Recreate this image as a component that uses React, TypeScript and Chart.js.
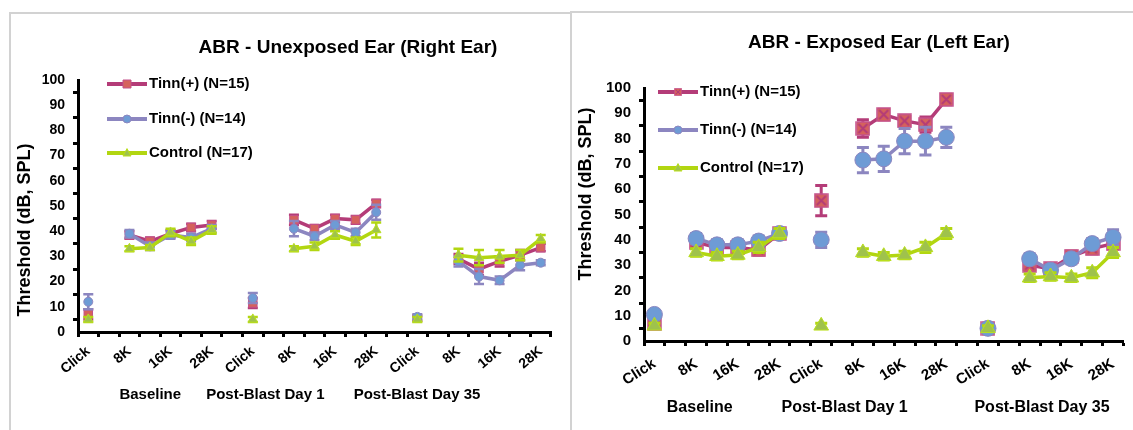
import React, { useEffect, useRef } from 'react';
import { Chart, registerables } from 'chart.js';

Chart.register(...registerables);

const FONT = '"Liberation Sans", Arial, sans-serif';

// 23 category slots: Click, gap, 8K..28K (5 freqs), gap ... per session
const xLabels = [
  'Click', '', '8K', '', '16K', '', '28K', '',
  'Click', '', '8K', '', '16K', '', '28K', '',
  'Click', '', '8K', '', '16K', '', '28K',
];

const seriesNames = ['Tinn(+) (N=15)', 'Tinn(-) (N=14)', 'Control (N=17)'];
const groupNames = ['Baseline', 'Post-Blast Day 1', 'Post-Blast Day 35'];
const yTicks = { min: 0, max: 100, step: 10 };

// Unexposed ear (right ear)
const rightTinnPlus = [7, null, 38.5, 36, 39, 41.5, 42.5, null, 11.5, null, 44.5, 41, 45, 44.5, 51, null, 5.5, null, 29, 25, 28, 30.5, 33.5];
const rightTinnPlusErr = [2, null, 1.5, 1.5, 1.5, 1.5, 1.5, null, 2, null, 2, 1.5, 1.5, 1.5, 1.5, null, 1, null, 2, 2.5, 2, 2, 1.5];
const rightTinnMinus = [12, null, 39, 34, 38.5, 37.5, 41, null, 13.5, null, 41, 38, 42.5, 39.5, 47.5, null, 6, null, 28, 22, 20.5, 26.5, 27.5];
const rightTinnMinusErr = [3, null, 1.5, 1.5, 1.5, 1.5, 1.5, null, 2, null, 3, 1.5, 1.5, 1.5, 3, null, 1, null, 2, 3, 1.5, 2, 1];
const rightControl = [5, null, 33, 33.5, 39.5, 36, 40.5, null, 5, null, 33, 34, 38.5, 36, 40.5, null, 5, null, 30.5, 29.5, 30, 30.5, 37];
const rightControlErr = [1, null, 1, 1, 1.5, 1.5, 1.5, null, 1, null, 1, 1.5, 1.5, 1.5, 3, null, 1, null, 2.5, 3, 2.5, 2, 1.5];

// Exposed ear (left ear)
const leftTinnPlus = [7, null, 39, 37, 37, 36, 42.5, null, 55.5, null, 84, 89.5, 87, 85.5, 95.5, null, 5, null, 30, 28.5, 33.5, 36.5, 38.5];
const leftTinnPlusErr = [2, null, 2, 2, 2, 2, 2, null, 6, null, 3.5, 2, 2, 3, 1.5, null, 1, null, 2, 2, 2, 2, 2];
const leftTinnMinus = [10.5, null, 40.5, 38, 38, 39.5, 42.5, null, 40, null, 71.5, 72, 79, 79, 80.5, null, 5, null, 32.5, 28, 32.5, 38.5, 41];
const leftTinnMinusErr = [1.5, null, 2, 2, 2, 2, 2, null, 3, null, 5, 5, 5, 5.5, 4, null, 1, null, 2, 2, 2, 2, 3];
const leftControl = [6, null, 35, 33.5, 34, 37, 42.5, null, 6, null, 35, 33.5, 34, 37, 42.5, null, 5, null, 25, 25.5, 25, 27, 35];
const leftControlErr = [1, null, 1.5, 1.5, 1.5, 2, 2, null, 1, null, 1.5, 1.5, 1.5, 2, 2, null, 1, null, 1.5, 1.5, 1.5, 2, 2];

const COL = {
  plusLine: '#B43C78', plusFill: '#D5625C', plusBorder: '#C4508A',
  minusLine: '#8C86C0', minusFill: '#6E9BD5', minusBorder: '#8C86C0',
  ctrlLine: '#B2D611', ctrlFill: '#9FC24C', ctrlBorder: '#BADF1E',
};

function makeXSquare(size: number) {
  const c = document.createElement('canvas');
  c.width = size; c.height = size;
  const g = c.getContext('2d')!;
  g.fillStyle = COL.plusFill;
  g.fillRect(1, 1, size - 2, size - 2);
  g.strokeStyle = COL.plusBorder;
  g.lineWidth = 1.5;
  g.strokeRect(1, 1, size - 2, size - 2);
  g.strokeStyle = COL.plusLine;
  g.lineWidth = 2;
  g.beginPath();
  g.moveTo(3, 3); g.lineTo(size - 3, size - 3);
  g.moveTo(size - 3, 3); g.lineTo(3, size - 3);
  g.stroke();
  return c;
}

function drawMarker(ctx: CanvasRenderingContext2D, style: any, x: number, y: number, r: number, fill: string, stroke: string) {
  ctx.save();
  if (typeof style !== 'string') {
    const s = r * 2;
    ctx.drawImage(style, x - s / 2, y - s / 2, s, s);
    ctx.restore();
    return;
  }
  ctx.fillStyle = fill;
  ctx.strokeStyle = stroke;
  ctx.lineWidth = 1;
  ctx.beginPath();
  if (style === 'rect') {
    ctx.rect(x - r, y - r, 2 * r, 2 * r);
  } else if (style === 'circle') {
    ctx.arc(x, y, r, 0, Math.PI * 2);
  } else {
    ctx.moveTo(x, y - r * 1.1);
    ctx.lineTo(x + r, y + r * 0.75);
    ctx.lineTo(x - r, y + r * 0.75);
    ctx.closePath();
  }
  ctx.fill();
  ctx.stroke();
  ctx.restore();
}

const errorBarPlugin = {
  id: 'errorBars',
  beforeDatasetDraw(chart: any, args: any) {
    const ds = chart.data.datasets[args.index];
    const errs = ds.errors as (number | null)[] | undefined;
    if (!errs) return;
    const ctx = chart.ctx as CanvasRenderingContext2D;
    const ys = chart.scales.y;
    ctx.save();
    ctx.strokeStyle = ds.borderColor;
    ctx.lineWidth = ds.errWidth;
    ctx.lineCap = 'butt';
    args.meta.data.forEach((pt: any, i: number) => {
      const v = ds.data[i];
      const e = errs[i];
      if (v == null || e == null) return;
      const x = pt.x;
      const y1 = ys.getPixelForValue(v + e);
      const y2 = ys.getPixelForValue(v - e);
      const c = ds.errCap;
      ctx.beginPath();
      ctx.moveTo(x, y1); ctx.lineTo(x, y2);
      ctx.moveTo(x - c, y1); ctx.lineTo(x + c, y1);
      ctx.moveTo(x - c, y2); ctx.lineTo(x + c, y2);
      ctx.stroke();
    });
    ctx.restore();
  },
};

interface PanelCfg {
  width: number; height: number;
  title: string; titleFont: number; titleX: number; titleY: number;
  yTitleX: number; yTitleY: number; yTitleFont: number;
  legX1: number; legX2: number; legTextX: number; legYs: number[]; legFont: number; legR: number; legLine: number;
  padTop: number; padRight: number; yWidth: number; xHeight: number;
  tickFont: number; xTickFont: number; xRot: number; yPad: number; xPad: number;
  groupTitle: string; groupFont: number; groupPadBottom: number;
  lineWidth: number; errCap: number; errWidth: number;
  styles: any[]; radii: number[];
  data: (number | null)[][]; errs: (number | null)[][];
}

function Panel({ cfg }: { cfg: PanelCfg }) {
  const ref = useRef<HTMLCanvasElement>(null);
  useEffect(() => {
    const fills = [COL.plusFill, COL.minusFill, COL.ctrlFill];
    const lines = [COL.plusLine, COL.minusLine, COL.ctrlLine];
    const borders = [COL.plusBorder, COL.minusBorder, COL.ctrlBorder];
    const decor = {
      id: 'decor',
      afterDraw(chart: any) {
        const ctx = chart.ctx as CanvasRenderingContext2D;
        ctx.save();
        ctx.fillStyle = '#000';
        ctx.textBaseline = 'middle';
        ctx.textAlign = 'center';
        ctx.font = `bold ${cfg.titleFont}px ${FONT}`;
        ctx.fillText(cfg.title, cfg.titleX, cfg.titleY);
        ctx.save();
        ctx.translate(cfg.yTitleX, cfg.yTitleY);
        ctx.rotate(-Math.PI / 2);
        ctx.font = `bold ${cfg.yTitleFont}px ${FONT}`;
        ctx.fillText('Threshold (dB, SPL)', 0, 0);
        ctx.restore();
        chart.data.datasets.forEach((ds: any, i: number) => {
          const y = cfg.legYs[i];
          ctx.strokeStyle = ds.borderColor;
          ctx.lineWidth = cfg.legLine;
          ctx.beginPath();
          ctx.moveTo(cfg.legX1, y);
          ctx.lineTo(cfg.legX2, y);
          ctx.stroke();
          drawMarker(ctx, cfg.styles[i], (cfg.legX1 + cfg.legX2) / 2, y, cfg.legR, fills[i], borders[i]);
          ctx.fillStyle = '#000';
          ctx.textAlign = 'left';
          ctx.font = `bold ${cfg.legFont}px ${FONT}`;
          ctx.fillText(ds.label, cfg.legTextX, y);
        });
        ctx.restore();
      },
    };
    const gridOpts = {
      display: true, drawOnChartArea: false, drawTicks: true, tickLength: 5, tickWidth: 3,
      tickColor: '#000', offset: true,
    };
    const chart = new Chart(ref.current!, {
      type: 'line',
      data: {
        labels: xLabels,
        datasets: seriesNames.map((name, i) => ({
          label: name,
          data: cfg.data[i],
          errors: cfg.errs[i],
          errCap: cfg.errCap,
          errWidth: cfg.errWidth,
          borderColor: lines[i],
          backgroundColor: fills[i],
          borderWidth: cfg.lineWidth,
          pointStyle: cfg.styles[i],
          pointRadius: cfg.radii[i],
          pointBackgroundColor: fills[i],
          pointBorderColor: borders[i],
          pointBorderWidth: 1,
          spanGaps: false,
          fill: false,
          tension: 0,
          order: 3 - i,
        })) as any,
      },
      options: {
        animation: false,
        responsive: false,
        maintainAspectRatio: false,
        events: [],
        layout: { padding: { left: 0, right: cfg.padRight, top: cfg.padTop, bottom: 0 } },
        plugins: { legend: { display: false }, tooltip: { enabled: false }, title: { display: false } },
        scales: {
          x: {
            type: 'category',
            offset: true,
            grid: gridOpts as any,
            border: { display: true, color: '#000', width: 3 },
            ticks: {
              autoSkip: false, maxRotation: cfg.xRot, minRotation: cfg.xRot, padding: cfg.xPad,
              color: '#000', font: { family: FONT, weight: 'bold', size: cfg.xTickFont },
            },
            title: {
              display: true, text: cfg.groupTitle, color: '#000',
              font: { family: FONT, weight: 'bold', size: cfg.groupFont, lineHeight: 1.2 },
              padding: { top: 0, bottom: cfg.groupPadBottom },
            },
            afterFit: (s: any) => { s.height = cfg.xHeight; },
          },
          y: {
            min: yTicks.min, max: yTicks.max,
            grid: gridOpts as any,
            border: { display: true, color: '#000', width: 3 },
            ticks: {
              stepSize: yTicks.step, padding: cfg.yPad, color: '#000',
              font: { family: FONT, weight: 'bold', size: cfg.tickFont },
            },
            afterFit: (s: any) => { s.width = cfg.yWidth; },
          },
        },
      } as any,
      plugins: [errorBarPlugin, decor],
    });
    return () => chart.destroy();
  }, [cfg]);
  return <canvas ref={ref} width={cfg.width} height={cfg.height} style={{ display: 'block', width: cfg.width, height: cfg.height }} />;
}

const sp = (n: number) => ' '.repeat(n);

const leftCfg: PanelCfg = {
  width: 556, height: 416,
  title: 'ABR - Unexposed Ear (Right Ear)', titleFont: 19, titleX: 337, titleY: 34,
  yTitleX: 14, yTitleY: 216, yTitleFont: 18,
  legX1: 96, legX2: 136, legTextX: 138, legYs: [70, 105, 139], legFont: 15, legR: 4, legLine: 4,
  padTop: 66, padRight: 16, yWidth: 67, xHeight: 98,
  tickFont: 14, xTickFont: 14, xRot: 40, yPad: 8, xPad: 6,
  groupTitle: groupNames[0] + sp(6) + groupNames[1] + sp(7) + groupNames[2] + sp(7),
  groupFont: 15, groupPadBottom: 26,
  lineWidth: 3.5, errCap: 5, errWidth: 2.5,
  styles: ['rect', 'circle', 'triangle'], radii: [6, 4.5, 5.5],
  data: [rightTinnPlus, rightTinnMinus, rightControl],
  errs: [rightTinnPlusErr, rightTinnMinusErr, rightControlErr],
};

export default function App() {
  const rightCfg = React.useMemo<PanelCfg>(() => ({
    width: 560, height: 417,
    title: 'ABR - Exposed Ear (Left Ear)', titleFont: 19, titleX: 306, titleY: 30,
    yTitleX: 13, yTitleY: 181, yTitleFont: 18,
    legX1: 85, legX2: 125, legTextX: 127, legYs: [79, 117, 155], legFont: 15, legR: 4, legLine: 4,
    padTop: 75, padRight: 8, yWidth: 71, xHeight: 89,
    tickFont: 15, xTickFont: 15, xRot: 32, yPad: 8, xPad: 9,
    groupTitle: sp(2) + groupNames[0] + sp(11) + groupNames[1] + sp(15) + groupNames[2],
    groupFont: 16, groupPadBottom: 13,
    lineWidth: 3.5, errCap: 6, errWidth: 3,
    styles: [makeXSquare(15), 'circle', 'triangle'], radii: [7, 8, 8.5],
    data: [leftTinnPlus, leftTinnMinus, leftControl],
    errs: [leftTinnPlusErr, leftTinnMinusErr, leftControlErr],
  }), []);
  return (
    <div style={{ position: 'absolute', left: 0, top: 0, width: 1133, height: 430, overflow: 'hidden', background: '#fff' }}>
      <div style={{ position: 'absolute', left: 9, top: 12, width: 570, height: 440, borderLeft: '2px solid #D2D2D2', borderTop: '2px solid #D2D2D2', boxSizing: 'border-box' }} />
      <div style={{ position: 'absolute', left: 570, top: 11, width: 600, height: 440, borderLeft: '2px solid #D2D2D2', borderTop: '2px solid #D2D2D2', boxSizing: 'border-box', background: '#fff' }} />
      <div style={{ position: 'absolute', left: 11, top: 14 }}>
        <Panel cfg={leftCfg} />
      </div>
      <div style={{ position: 'absolute', left: 573, top: 13 }}>
        <Panel cfg={rightCfg} />
      </div>
    </div>
  );
}
